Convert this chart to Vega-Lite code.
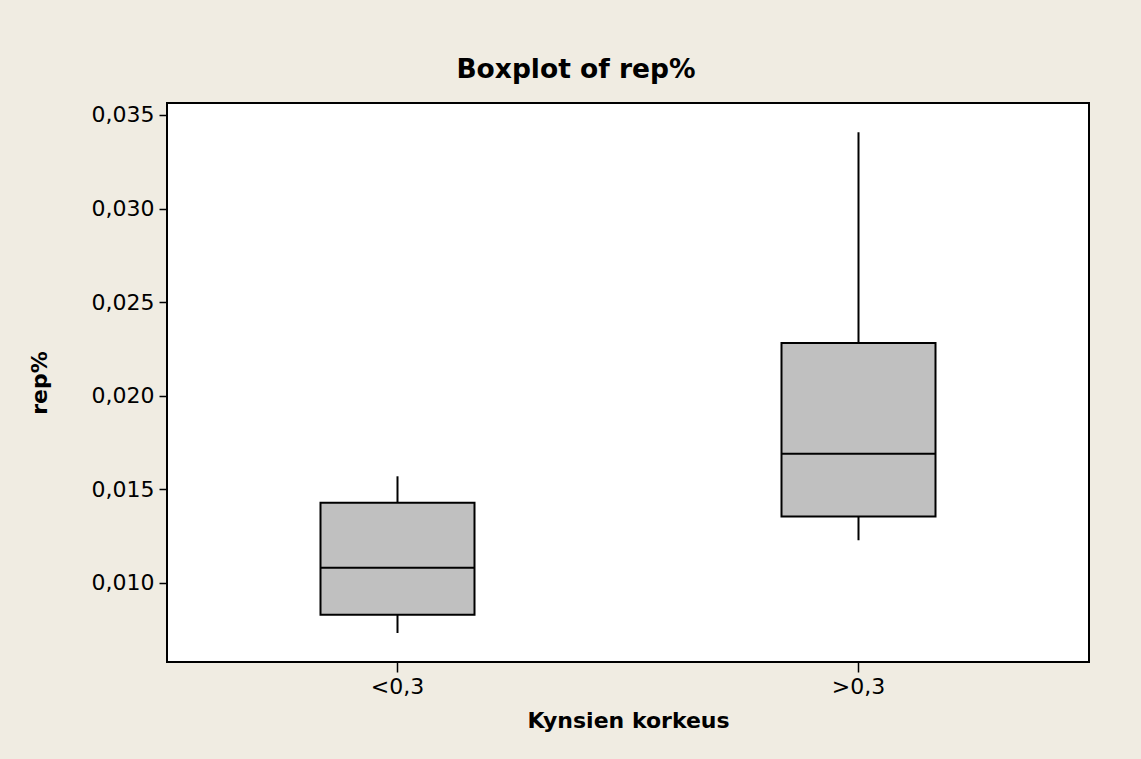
{
  "$schema": "https://vega.github.io/schema/vega-lite/v6.json",
  "width": 922,
  "height": 559,
  "autosize": {"type": "none"},
  "padding": {"left": 167, "top": 103, "right": 52, "bottom": 97},
  "background": "#F0ECE2",
  "title": {
    "text": "Boxplot of rep%",
    "font": "DejaVu Sans",
    "fontSize": 26.5,
    "fontWeight": "bold",
    "color": "black",
    "anchor": "middle",
    "frame": "group",
    "baseline": "alphabetic",
    "offset": -1,
    "dx": -52
  },
  "data": {
    "values": [
      {"group": "<0,3", "lower": 0.00733, "q1": 0.00831, "median": 0.01082, "q3": 0.01429, "upper": 0.01570},
      {"group": ">0,3", "lower": 0.01228, "q1": 0.01355, "median": 0.01691, "q3": 0.02282, "upper": 0.03408}
    ]
  },
  "encoding": {
    "x": {
      "field": "group",
      "type": "nominal",
      "sort": null,
      "scale": {"paddingInner": 0, "paddingOuter": 0},
      "title": "Kynsien korkeus",
      "axis": {
        "domain": false,
        "grid": false,
        "labelAngle": 0,
        "labelFont": "DejaVu Sans",
        "labelFontSize": 22,
        "labelColor": "black",
        "labelPadding": 4,
        "tickColor": "black",
        "tickSize": 10,
        "tickWidth": 1.5,
        "titleFont": "DejaVu Sans",
        "titleFontSize": 22,
        "titleFontWeight": "bold",
        "titleColor": "black",
        "titlePadding": 13
      }
    }
  },
  "layer": [
    {
      "mark": {"type": "rule", "color": "black", "strokeWidth": 2},
      "encoding": {
        "y": {
          "field": "lower",
          "type": "quantitative",
          "scale": {"domain": [0.00578, 0.03564], "nice": false, "zero": false},
          "title": "rep%",
          "axis": {
            "values": [0.010, 0.015, 0.020, 0.025, 0.030, 0.035],
            "labelExpr": "replace(format(datum.value, '.3f'), '.', ',')",
            "domain": false,
            "grid": false,
            "labelFont": "DejaVu Sans",
            "labelFontSize": 22,
            "labelColor": "black",
            "labelPadding": 5,
            "tickColor": "black",
            "tickSize": 8,
            "tickWidth": 1.5,
            "titleFont": "DejaVu Sans",
            "titleFontSize": 22,
            "titleFontWeight": "bold",
            "titleColor": "black",
            "titlePadding": 40
          }
        },
        "y2": {"field": "upper"}
      }
    },
    {
      "mark": {"type": "bar", "fill": "#C0C0C0", "stroke": "black", "strokeWidth": 2, "width": 154},
      "encoding": {
        "y": {"field": "q1", "type": "quantitative"},
        "y2": {"field": "q3"}
      }
    },
    {
      "mark": {"type": "tick", "color": "black", "opacity": 1, "thickness": 2, "size": 154},
      "encoding": {
        "y": {"field": "median", "type": "quantitative"}
      }
    }
  ],
  "config": {
    "view": {"stroke": "black", "strokeWidth": 2, "fill": "white"}
  }
}
